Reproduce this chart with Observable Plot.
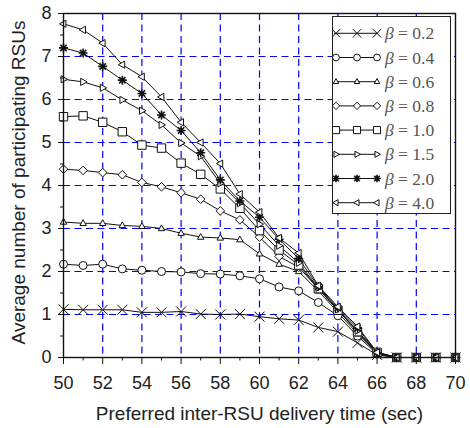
<!DOCTYPE html>
<html><head><meta charset="utf-8">
<script src="https://cdn.jsdelivr.net/npm/d3@7"></script>
<script src="https://cdn.jsdelivr.net/npm/@observablehq/plot@0.6"></script>
<style>
body{margin:0;background:#fff;}
#wrap{position:relative;width:470px;height:428px;overflow:hidden;}
#legend{position:absolute;left:332px;top:16px;}
</style></head><body><div id="wrap"></div>
<script>
// ---- data ----
const times = [50,51,52,53,54,55,56,57,58,59,60,61,62,63,64,65,66,67,68,69,70];
const betaLabels = ["0.2","0.4","0.6","0.8","1.0","1.5","2.0","4.0"];
const b02 = [1.12,1.11,1.11,1.11,1.05,1.05,1.07,1.01,1.00,1.01,0.95,0.90,0.87,0.70,0.60,0.34,0.06,0,0,0,0];
const b04 = [2.17,2.14,2.17,2.06,2.03,2.00,1.99,1.95,1.94,1.90,1.83,1.64,1.55,1.28,0.97,0.50,0.08,0,0,0,0];
const b06 = [3.15,3.12,3.12,3.07,3.05,3.00,2.89,2.80,2.78,2.74,2.41,2.17,2.00,1.55,1.05,0.55,0.10,0,0,0,0];
const b08 = [4.38,4.35,4.30,4.25,4.07,3.97,3.83,3.68,3.41,3.20,2.80,2.35,2.10,1.60,1.10,0.60,0.10,0,0,0,0];
const b10 = [5.60,5.62,5.47,5.25,4.94,4.87,4.52,4.26,3.92,3.47,2.95,2.50,2.15,1.60,1.10,0.60,0.12,0,0,0,0];
const b15 = [6.47,6.41,6.27,5.99,5.74,5.41,4.99,4.68,4.05,3.59,3.10,2.60,2.20,1.62,1.12,0.62,0.10,0,0,0,0];
const b20 = [7.20,7.08,6.77,6.45,6.14,5.64,5.28,4.76,4.13,3.64,3.26,2.75,2.30,1.65,1.15,0.68,0.12,0,0,0,0];
const b40 = [7.76,7.62,7.31,6.81,6.53,6.06,5.47,5.00,4.51,3.80,3.38,2.78,2.43,1.67,1.18,0.72,0.12,0,0,0,0];
const series = [b02,b04,b06,b08,b10,b15,b20,b40];
const xTicks = [50,52,54,56,58,60,62,64,66,68,70];
const xMinor = [51,53,55,57,59,61,63,65,67,69];
const yTicks = [0,1,2,3,4,5,6,7,8];
const yMinor = [0.5,1.5,2.5,3.5,4.5,5.5,6.5,7.5];
const xGrid = [52,54,56,58,60,62,64,66,68];
const yGrid = [1,2,3,4,5,6,7];
const xTitle = ["Preferred inter-RSU delivery time (sec)"];
const yTitle = ["Average number of participating RSUs"];

// ---- symbols ----
const shapes = {
  times:(c,r)=>{c.moveTo(-r,-r);c.lineTo(r,r);c.moveTo(-r,r);c.lineTo(r,-r);},
  circle:(c,r)=>{c.moveTo(r,0);c.arc(0,0,r,0,2*Math.PI);},
  up:(c,r)=>{c.moveTo(0,-r);c.lineTo(r*0.9,r*0.6);c.lineTo(-r*0.9,r*0.6);c.closePath();},
  diamond:(c,r)=>{c.moveTo(0,-r);c.lineTo(r,0);c.lineTo(0,r);c.lineTo(-r,0);c.closePath();},
  square:(c,r)=>{c.moveTo(-r,-r);c.lineTo(r,-r);c.lineTo(r,r);c.lineTo(-r,r);c.closePath();},
  right:(c,r)=>{c.moveTo(r,0);c.lineTo(-r*0.6,-r*0.9);c.lineTo(-r*0.6,r*0.9);c.closePath();},
  star:(c,r)=>{for(let k=0;k<4;k++){const a=k*Math.PI/4;c.moveTo(r*Math.cos(a),r*Math.sin(a));c.lineTo(-r*Math.cos(a),-r*Math.sin(a));}},
  left:(c,r)=>{c.moveTo(-r,0);c.lineTo(r*0.6,-r*0.9);c.lineTo(r*0.6,r*0.9);c.closePath();}
};
const sym = f => ({draw(ctx,size){f(ctx,Math.sqrt(size/Math.PI));}});
const styles = [
  {s:"times",r:5,fill:"none",sw:1},
  {s:"circle",r:4,fill:"white",sw:1},
  {s:"up",r:3.6,fill:"white",sw:1},
  {s:"diamond",r:4.3,fill:"white",sw:1},
  {s:"square",r:4.2,fill:"white",sw:1},
  {s:"right",r:4,fill:"white",sw:1},
  {s:"star",r:4.5,fill:"none",sw:1.6},
  {s:"left",r:4,fill:"white",sw:1}
];

const rows = [];
series.forEach((arr,i)=>arr.forEach((v,j)=>rows.push({t:times[j],v,beta:betaLabels[i]})));

const gridStyle = {stroke:"#0000ff",strokeWidth:1.2,strokeDasharray:"7,4.5"};
const marks = [
  Plot.ruleX(xGrid, gridStyle),
  Plot.ruleY(yGrid, gridStyle),
  Plot.line(rows,{x:"t",y:"v",z:"beta",stroke:"#111",strokeWidth:1}),
];
betaLabels.forEach((b,i)=>{
  const st = styles[i];
  marks.push(Plot.dot(rows.filter(d=>d.beta===b),{x:"t",y:"v",symbol:sym(shapes[st.s]),r:st.r,fill:st.fill,stroke:"#111",strokeWidth:st.sw}));
});
marks.push(
  Plot.frame({stroke:"#111",strokeWidth:1.4}),
  Plot.axisX(xTicks,{tickSize:7,tickPadding:12,fontSize:18,label:null,stroke:"#111",fill:"#222"}),
  Plot.axisX(xMinor,{tickSize:3.5,tickFormat:()=>"",label:null,stroke:"#111"}),
  Plot.axisY(yTicks,{tickSize:5,tickPadding:7,fontSize:18,label:null,stroke:"#111",fill:"#222"}),
  Plot.axisY(yMinor,{tickSize:3,tickFormat:()=>"",label:null,stroke:"#111"}),
  Plot.text(xTitle,{text:d=>d,frameAnchor:"bottom",textAnchor:"middle",lineAnchor:"middle",dy:56,fontSize:19,fill:"#222"}),
  Plot.text(yTitle,{text:d=>d,frameAnchor:"left",textAnchor:"middle",lineAnchor:"middle",rotate:-90,dx:-45,dy:-3,fontSize:19,fill:"#222"})
);

const chart = Plot.plot({
  width:470,height:428,
  marginLeft:63,marginRight:15,marginTop:13,marginBottom:71,
  x:{domain:[50,70]},
  y:{domain:[0,8]},
  style:{fontFamily:"'Liberation Sans', Arial, sans-serif",fontSize:"18px",background:"white",color:"#111"},
  marks
});
document.getElementById("wrap").appendChild(chart);

// ---- legend ----
const LW=119, rowH=24.2, top0=17.3, LH=198;
const lg = d3.create("svg").attr("id","legend").attr("width",LW).attr("height",LH);
lg.append("rect").attr("x",0.5).attr("y",0.5).attr("width",LW-1).attr("height",LH-1).attr("fill","white").attr("stroke","#222").attr("stroke-width",1);
betaLabels.forEach((b,i)=>{
  const y = top0 + i*rowH, st = styles[i];
  lg.append("line").attr("x1",2).attr("x2",46).attr("y1",y).attr("y2",y).attr("stroke","#111").attr("stroke-width",1);
  [4,25,45].forEach(x=>{
    const p = d3.path(); shapes[st.s](p, st.r*0.85);
    lg.append("path").attr("d",p.toString()).attr("transform",`translate(${x},${y})`).attr("fill",st.fill).attr("stroke","#111").attr("stroke-width",st.sw);
  });
  const t = lg.append("text").attr("x",53).attr("y",y).attr("dy","0.35em").attr("font-family","'Liberation Serif', serif").attr("font-size",17.5).attr("fill","#555");
  t.append("tspan").attr("font-style","italic").text("β");
  t.append("tspan").text(" = " + b);
});
document.getElementById("wrap").appendChild(lg.node());
</script>
</body></html>
